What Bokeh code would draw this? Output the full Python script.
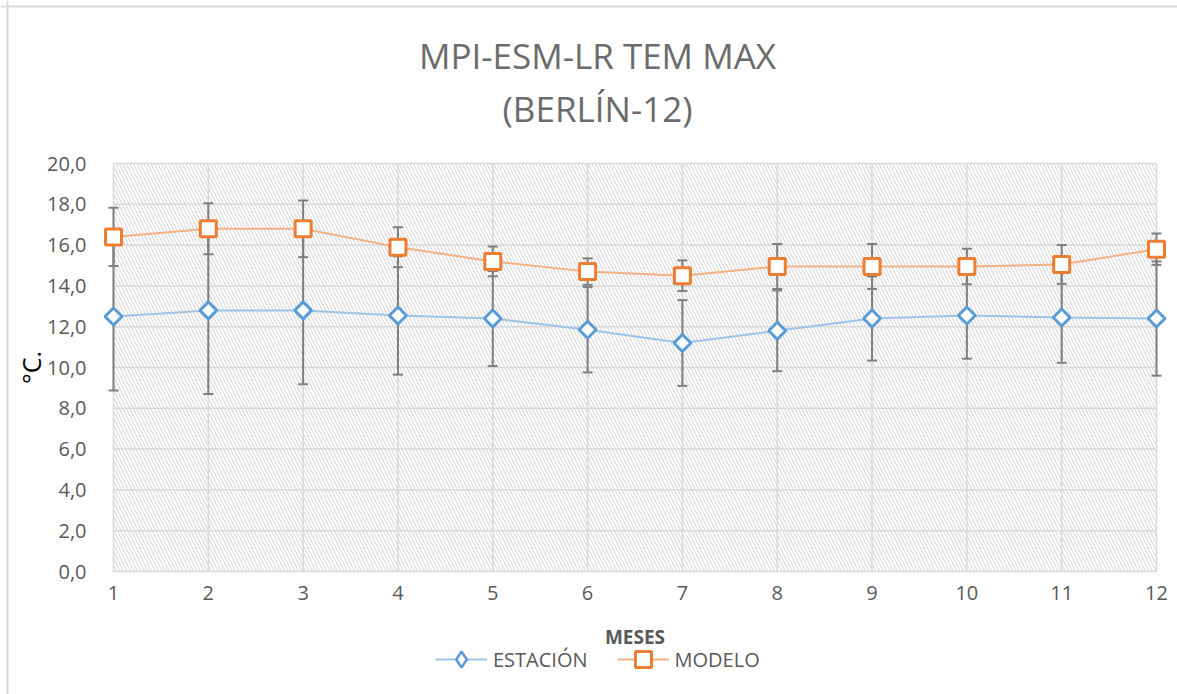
import numpy as np
from bokeh.plotting import figure
from bokeh.models import (Range1d, FixedTicker, ColumnDataSource, Whisker, TeeHead,
                          Legend, LegendItem, Label, Span)
from bokeh.embed import file_html
from bokeh.resources import INLINE

# ---------------- data ----------------
months = [1, 2, 3, 4, 5, 6, 7, 8, 9, 10, 11, 12]
estacion = [12.5, 12.8, 12.8, 12.55, 12.4, 11.85, 11.2, 11.8, 12.4, 12.55, 12.45, 12.4]
estacion_err = [3.63, 4.1, 3.62, 2.9, 2.33, 2.09, 2.1, 1.98, 2.06, 2.12, 2.22, 2.8]
modelo = [16.4, 16.8, 16.8, 15.9, 15.2, 14.7, 14.5, 14.95, 14.95, 14.95, 15.05, 15.8]
modelo_err = [1.43, 1.25, 1.39, 0.98, 0.73, 0.65, 0.75, 1.1, 1.1, 0.87, 0.95, 0.77]
y_ticks = [0, 2, 4, 6, 8, 10, 12, 14, 16, 18, 20]
y_tick_labels = ["0,0", "2,0", "4,0", "6,0", "8,0", "10,0", "12,0", "14,0", "16,0", "18,0", "20,0"]
title_lines = ["MPI-ESM-LR TEM MAX", "(BERLÍN-12)"]
x_title = "MESES"
y_title = "°C."
series_names = ["ESTACIÓN", "MODELO"]

# ---------------- layout (pixels) ----------------
W, H = 1177, 694
PLOT_L, PLOT_R, PLOT_T, PLOT_B = 113, 1156, 163, 571   # where the first/last month and 20/0 sit
FONT = "Open Sans"
GRAY_TXT = "#595959"
GRID = "#d9d9d9"
BLUE, BLUE_LINE = "#5b9bd5", "#9dc3e6"
ORANGE, ORANGE_LINE = "#ed7d31", "#f4b183"

kx = (PLOT_R - PLOT_L) / (months[-1] - months[0])
ky = (PLOT_B - PLOT_T) / (y_ticks[-1] - y_ticks[0])
x0 = months[0] - PLOT_L / kx
y1 = y_ticks[-1] + PLOT_T / ky


def dx(px):  # page x pixel -> data x
    return x0 + px / kx


def dy(py):  # page y pixel -> data y
    return y1 - py / ky


p = figure(width=W, height=H,
           x_range=Range1d(x0, x0 + W / kx), y_range=Range1d(y1 - H / ky, y1),
           output_backend="svg", toolbar_location=None, title=None,
           min_border_left=0, min_border_right=0, min_border_top=0, min_border_bottom=0)
p.outline_line_color = None
p.background_fill_color = "white"
p.border_fill_color = "white"
p.xgrid.grid_line_color = None
p.ygrid.grid_line_color = None

# chart border (left and top edges)
p.add_layout(Span(location=dx(7), dimension="height", line_color=GRID, line_width=2))
p.add_layout(Span(location=dy(6), dimension="width", line_color=GRID, line_width=2))

# hatched plot area
p.quad(left=months[0], right=months[-1], bottom=y_ticks[0], top=y_ticks[-1],
       fill_color="white", line_color=None, hatch_pattern="\\", hatch_color="#d0d0d0",
       hatch_scale=7, hatch_weight=1, level="image")
# grid lines
p.segment(x0=[months[0]] * len(y_ticks), x1=[months[-1]] * len(y_ticks), y0=y_ticks, y1=y_ticks,
          line_color=GRID, line_width=1.5, level="image")
p.segment(x0=months, x1=months, y0=[y_ticks[0]] * len(months), y1=[y_ticks[-1]] * len(months),
          line_color=GRID, line_width=1.5, level="image")

# error bars
for vals, errs in ((estacion, estacion_err), (modelo, modelo_err)):
    src = ColumnDataSource(dict(x=months,
                                upper=[v + e for v, e in zip(vals, errs)],
                                lower=[v - e for v, e in zip(vals, errs)]))
    w = Whisker(source=src, base="x", upper="upper", lower="lower", dimension="height",
                line_color="#7f7f7f", line_width=2, level="underlay",
                upper_head=TeeHead(size=10, line_color="#7f7f7f", line_width=2),
                lower_head=TeeHead(size=10, line_color="#7f7f7f", line_width=2))
    p.add_layout(w)

l1 = p.line(months, estacion, line_color=BLUE_LINE, line_width=2)
# diamond symbol used for the legend key; it sits under the (larger) rotated squares
s1_key = p.scatter(months, estacion, marker="diamond", size=16,
                   fill_color="white", line_color=BLUE, line_width=2.5)
s1 = p.scatter(months, estacion, marker="square", angle=np.pi / 4, size=12,
               fill_color="white", line_color=BLUE, line_width=3)
l2 = p.line(months, modelo, line_color=ORANGE_LINE, line_width=2)
s2 = p.scatter(months, modelo, marker="square", size=16,
               fill_color="white", line_color=ORANGE, line_width=3)

# axes, anchored at the plot-area edges
p.xaxis.fixed_location = y_ticks[0]
p.yaxis.fixed_location = months[0]
p.xaxis.ticker = FixedTicker(ticks=months)
p.yaxis.ticker = FixedTicker(ticks=y_ticks)
p.yaxis.major_label_overrides = {t: s for t, s in zip(y_ticks, y_tick_labels)}
for ax in (p.xaxis[0], p.yaxis[0]):
    ax.axis_line_color = None
    ax.major_tick_line_color = None
    ax.minor_tick_line_color = None
    ax.major_label_text_font = FONT
    ax.major_label_text_font_size = "20px"
    ax.major_label_text_color = GRAY_TXT
p.xaxis.major_label_standoff = 8
p.yaxis.major_label_standoff = 21

# axis titles
p.add_layout(Label(x=(months[0] + months[-1]) / 2, y=dy(636), text=x_title,
                   text_align="center", text_baseline="middle", text_font=FONT,
                   text_font_size="19px", text_font_style="bold", text_color=GRAY_TXT))
p.add_layout(Label(x=dx(30), y=(y_ticks[0] + y_ticks[-1]) / 2, text=y_title, angle=np.pi / 2,
                   text_align="center", text_baseline="middle", text_font=FONT,
                   text_font_size="25px", text_color="black"))

# chart title (two lines)
for txt, ty in zip(title_lines, (55, 108)):
    p.add_layout(Label(x=dx(597), y=dy(ty), text=txt, text_align="center", text_baseline="middle",
                       text_font=FONT, text_font_size="35px", text_color="#6b6b6b"))

legend = Legend(items=[LegendItem(label=series_names[0], renderers=[l1, s1_key]),
                       LegendItem(label=series_names[1], renderers=[l2, s2])],
                orientation="horizontal", location=(435, H - 679),
                border_line_color=None, background_fill_alpha=0,
                label_text_font=FONT, label_text_font_size="20px", label_text_color=GRAY_TXT,
                glyph_width=52, glyph_height=40, spacing=29, label_standoff=6,
                padding=0, margin=0)
p.add_layout(legend, "center")

open("out.html", "w").write(file_html(p, INLINE))
